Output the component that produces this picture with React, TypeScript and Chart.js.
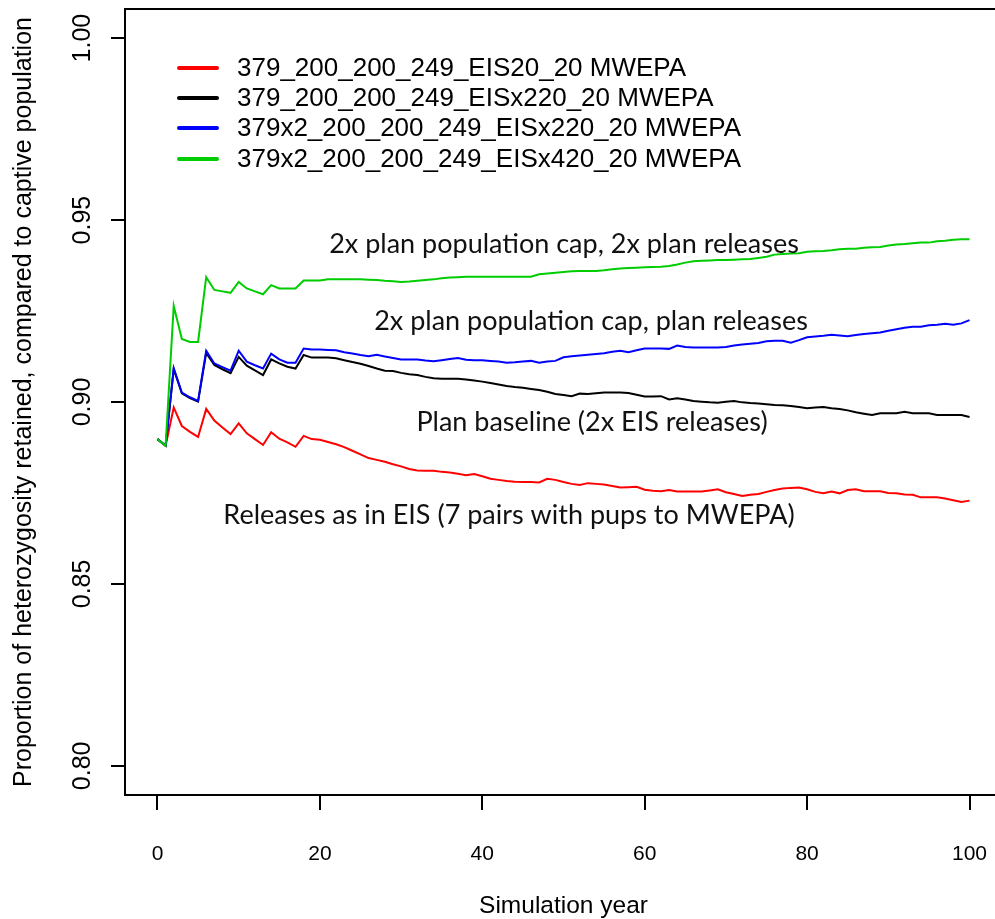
import React, { useEffect, useRef } from "react";
import { Chart, registerables } from "chart.js";

Chart.register(...registerables);

// ---- data ----
const years: number[] = Array.from({ length: 101 }, (_, i) => i);

const seriesLabels = [
  "379_200_200_249_EIS20_20 MWEPA",
  "379_200_200_249_EISx220_20 MWEPA",
  "379x2_200_200_249_EISx220_20 MWEPA",
  "379x2_200_200_249_EISx420_20 MWEPA",
];
const seriesColors = ["#FF0000", "#000000", "#0000FF", "#00CD00"];

const redEIS = [
  0.8898, 0.888, 0.8985, 0.8934, 0.8918, 0.8904, 0.8981, 0.8949, 0.893, 0.8912,
  0.8941, 0.8914, 0.8898, 0.8882, 0.8917, 0.8899, 0.8889, 0.8877, 0.8907, 0.8898,
  0.8896, 0.889, 0.8884, 0.8876, 0.8866, 0.8856, 0.8846, 0.8841, 0.8836, 0.8829,
  0.8823, 0.8816, 0.8812, 0.8811, 0.8811, 0.8808, 0.8806, 0.8803, 0.8799, 0.8802,
  0.8796, 0.8789, 0.8786, 0.8783, 0.8781, 0.878, 0.878, 0.8779, 0.8789, 0.8786,
  0.878, 0.8775, 0.8772, 0.8777, 0.8775, 0.8773, 0.8769, 0.8765, 0.8766, 0.8767,
  0.8759, 0.8756, 0.8755, 0.8758, 0.8754, 0.8754, 0.8754, 0.8754, 0.8757, 0.876,
  0.8752, 0.8747, 0.8742, 0.8745, 0.8747, 0.8753, 0.8758, 0.8762, 0.8764, 0.8765,
  0.876, 0.8753, 0.8749, 0.8754, 0.8749, 0.8758, 0.876, 0.8755, 0.8755, 0.8755,
  0.875, 0.8749, 0.8746, 0.8745, 0.8738, 0.8738, 0.8738, 0.8735, 0.873, 0.8725,
  0.8729,
];

const blackPlan = [
  0.8898, 0.888, 0.909, 0.9024, 0.9011, 0.9001, 0.9135, 0.9102, 0.909, 0.9079,
  0.9124, 0.91, 0.9087, 0.9074, 0.9117, 0.9106, 0.9097, 0.9092, 0.9129, 0.9122,
  0.9122, 0.9122, 0.912, 0.9115, 0.911, 0.9105, 0.9099, 0.9092, 0.9086, 0.9085,
  0.908, 0.9076, 0.9074, 0.9069, 0.9065, 0.9064, 0.9064, 0.9064, 0.9062, 0.9059,
  0.9056, 0.9052, 0.9048, 0.9044, 0.9041, 0.9039, 0.9036, 0.9033, 0.9028, 0.9022,
  0.9019, 0.9016, 0.9023, 0.9022, 0.9024, 0.9026, 0.9026, 0.9026, 0.9025, 0.902,
  0.9015, 0.9015, 0.9016, 0.9007, 0.901, 0.9007, 0.9003, 0.9001, 0.8999, 0.8998,
  0.9001, 0.9003, 0.8999, 0.8997, 0.8996, 0.8994, 0.8992, 0.8991, 0.8989, 0.8986,
  0.8983, 0.8985, 0.8986, 0.8983, 0.8981, 0.8977, 0.8972, 0.8968, 0.8964, 0.8969,
  0.8969, 0.8969, 0.8973, 0.8969, 0.8969, 0.8969, 0.8964, 0.8964, 0.8964, 0.8964,
  0.8959,
];

const bluePlanCap = [
  0.8898, 0.888, 0.9093, 0.9026, 0.9013, 0.9003, 0.9141, 0.9106, 0.9096, 0.9086,
  0.9141, 0.9111, 0.9101, 0.9092, 0.9133, 0.9117, 0.9108, 0.9108, 0.9147, 0.9144,
  0.9144, 0.9143, 0.9142, 0.9137, 0.9133, 0.9129, 0.9126, 0.913, 0.9125, 0.9121,
  0.9117, 0.9117, 0.9117, 0.9114, 0.9112, 0.9115, 0.9118, 0.9121, 0.9116, 0.9115,
  0.9115, 0.9113, 0.9111, 0.9108, 0.9109, 0.9111, 0.9113, 0.9108, 0.9111, 0.9113,
  0.9123, 0.9126, 0.9128, 0.913, 0.9132, 0.9134, 0.9138, 0.9141, 0.9137, 0.9142,
  0.9147, 0.9147, 0.9147, 0.9146, 0.9155, 0.9151, 0.915, 0.915, 0.915, 0.915,
  0.9151, 0.9155, 0.9158, 0.916, 0.9162, 0.9167, 0.9168, 0.9168, 0.9163, 0.917,
  0.9178, 0.918, 0.9182, 0.9185, 0.9183, 0.9181, 0.9184, 0.9187, 0.9189, 0.9191,
  0.9196, 0.92, 0.9204, 0.9207, 0.9207, 0.9211, 0.9212, 0.9215, 0.9212, 0.9216,
  0.9225,
];

const greenCapReleases = [
  0.8898, 0.888, 0.9264, 0.9173, 0.9165, 0.9165, 0.9343, 0.9308, 0.9304, 0.93,
  0.933, 0.9312, 0.9304, 0.9296, 0.9321, 0.9312, 0.9312, 0.9312, 0.9334, 0.9334,
  0.9334, 0.9337, 0.9337, 0.9337, 0.9337, 0.9337, 0.9336, 0.9335, 0.9333, 0.9332,
  0.933, 0.9331, 0.9333, 0.9335, 0.9337, 0.934, 0.9342, 0.9343, 0.9344, 0.9344,
  0.9344, 0.9344, 0.9344, 0.9344, 0.9344, 0.9344, 0.9344, 0.9351, 0.9353, 0.9355,
  0.9357, 0.9359, 0.936, 0.936, 0.936, 0.9362, 0.9365, 0.9367, 0.9368, 0.9369,
  0.937, 0.9371, 0.9372, 0.9374, 0.9378, 0.9383, 0.9387, 0.9388, 0.9389, 0.939,
  0.939, 0.9391, 0.9392, 0.9393, 0.9396, 0.9399, 0.9405, 0.9407, 0.9408, 0.9409,
  0.9413, 0.9414, 0.9415, 0.9417, 0.942, 0.9421, 0.9421, 0.9424, 0.9425, 0.9426,
  0.943, 0.9433, 0.9434, 0.9436, 0.9438, 0.9438, 0.9442, 0.9443, 0.9446, 0.9447,
  0.9447,
];

const seriesValues = [redEIS, blackPlan, bluePlanCap, greenCapReleases];

const xTickValues = [0, 20, 40, 60, 80, 100];
const xTickLabels = ["0", "20", "40", "60", "80", "100"];
const yTickValues = [0.8, 0.85, 0.9, 0.95, 1.0];
const yTickLabels = ["0.80", "0.85", "0.90", "0.95", "1.00"];

const xTitle = "Simulation year";
const yTitle = "Proportion of heterozygosity retained, compared to captive population";

const annotationTexts = [
  "2x plan population cap, 2x plan releases",
  "2x plan population cap, plan releases",
  "Plan baseline (2x EIS releases)",
  "Releases as in EIS (7 pairs with pups to MWEPA)",
];

// ---- drawing ----
const ARIAL = '"Liberation Sans", Arial, sans-serif';
const CAL = 'Lato, "Open Sans", sans-serif';

const overlayPlugin = {
  id: "overlay",
  afterDraw(chart: any) {
    const ctx = chart.ctx as CanvasRenderingContext2D;
    const { left, top, right, bottom } = chart.chartArea;
    const xs = chart.scales.x;
    const ys = chart.scales.y;
    ctx.save();
    // frame
    ctx.strokeStyle = "#000";
    ctx.lineWidth = 2;
    ctx.strokeRect(left, top, right - left, bottom - top);

    ctx.fillStyle = "#000";
    // x tick labels
    ctx.font = `21px ${ARIAL}`;
    ctx.textAlign = "center";
    ctx.textBaseline = "alphabetic";
    xTickValues.forEach((v, i) => {
      ctx.fillText(xTickLabels[i], xs.getPixelForValue(v), 860);
    });
    // y tick labels (rotated)
    ctx.font = `25px ${ARIAL}`;
    yTickValues.forEach((v, i) => {
      ctx.save();
      ctx.translate(90, ys.getPixelForValue(v));
      ctx.rotate(-Math.PI / 2);
      ctx.fillText(yTickLabels[i], 0, 0);
      ctx.restore();
    });
    // axis titles
    ctx.font = `24.5px ${ARIAL}`;
    ctx.fillText(xTitle, (left + right) / 2, 913);
    ctx.save();
    ctx.translate(31, (top + bottom) / 2);
    ctx.rotate(-Math.PI / 2);
    ctx.font = `25px ${ARIAL}`;
    ctx.fillText(yTitle, 0, 0);
    ctx.restore();

    // legend
    const rows = [68, 98, 128, 159];
    ctx.lineCap = "round";
    ctx.lineWidth = 4;
    chart.data.datasets.forEach((ds: any, i: number) => {
      const y = rows[i];
      ctx.strokeStyle = ds.borderColor;
      ctx.beginPath();
      ctx.moveTo(179, y);
      ctx.lineTo(217, y);
      ctx.stroke();
    });
    ctx.font = `26px ${ARIAL}`;
    ctx.textAlign = "left";
    ctx.textBaseline = "middle";
    chart.data.datasets.forEach((ds: any, i: number) => {
      ctx.fillText(ds.label, 237, rows[i] + 1);
    });

    // annotations
    ctx.font = `27px ${CAL}`;
    ctx.textAlign = "center";
    ctx.textBaseline = "alphabetic";
    ctx.fillStyle = "#111";
    const pos = [
      [564, 253],
      [591, 330],
      [592, 431],
      [509, 524],
    ];
    annotationTexts.forEach((t, i) => ctx.fillText(t, pos[i][0], pos[i][1]));
    ctx.restore();
  },
};

export default function App() {
  const ref = useRef<HTMLCanvasElement | null>(null);
  useEffect(() => {
    if (!ref.current) return;
    const chart = new Chart(ref.current, {
      type: "line",
      data: {
        datasets: seriesValues.map((vals, i) => ({
          label: seriesLabels[i],
          data: years.map((x, j) => ({ x, y: vals[j] })),
          borderColor: seriesColors[i],
          backgroundColor: seriesColors[i],
          borderWidth: 2,
          pointRadius: 0,
          fill: false,
          tension: 0,
          order: 3 - i,
        })),
      },
      options: {
        responsive: false,
        animation: false,
        devicePixelRatio: 1,
        layout: { padding: { left: 111, top: 9, right: 8, bottom: 109 } },
        plugins: { legend: { display: false }, tooltip: { enabled: false } },
        scales: {
          x: {
            type: "linear",
            min: -4,
            max: 104,
            afterBuildTicks: (s: any) => {
              s.ticks = xTickValues.map((v) => ({ value: v }));
            },
            afterFit: (s: any) => {
              s.height = 15;
            },
            ticks: { display: false },
            grid: { drawOnChartArea: false, drawTicks: true, tickLength: 15, color: "#000", lineWidth: 2 },
            border: { display: false },
          },
          y: {
            type: "linear",
            min: 0.792,
            max: 1.008,
            afterBuildTicks: (s: any) => {
              s.ticks = yTickValues.map((v) => ({ value: v }));
            },
            afterFit: (s: any) => {
              s.width = 14;
            },
            ticks: { display: false },
            grid: { drawOnChartArea: false, drawTicks: true, tickLength: 14, color: "#000", lineWidth: 2 },
            border: { display: false },
          },
        },
      },
      plugins: [overlayPlugin],
    } as any);
    return () => chart.destroy();
  }, []);
  return (
    <div
      style={{
        position: "absolute",
        left: 0,
        top: 0,
        width: 995,
        height: 919,
        overflow: "hidden",
        background: "#fff",
      }}
    >
      <canvas ref={ref} width={1010} height={919} style={{ display: "block" }} />
    </div>
  );
}
